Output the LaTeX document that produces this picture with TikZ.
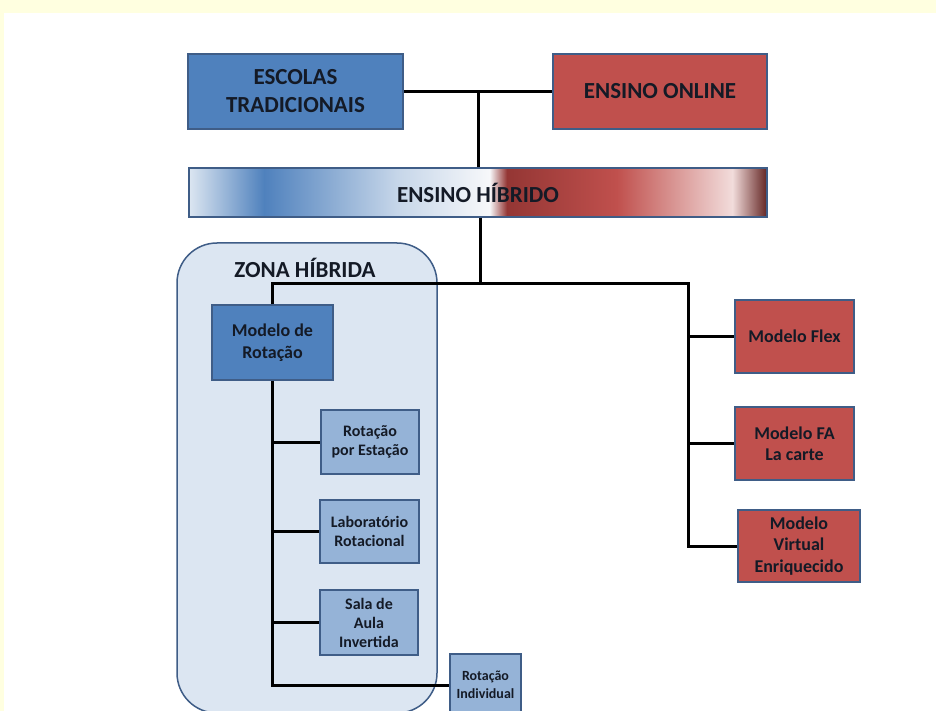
\documentclass[tikz,border=0pt]{standalone}
\usepackage{fontspec}
\setmainfont{Carlito}
\definecolor{fundo}{HTML}{FFFFE0}
\definecolor{azul}{HTML}{4F81BD}
\definecolor{azulclaro}{HTML}{95B3D7}
\definecolor{vermelho}{HTML}{C0504D}
\definecolor{contorno}{HTML}{3F5D87}
\definecolor{zona}{HTML}{DCE6F2}
\definecolor{texto}{HTML}{141A26}
\definecolor{hA}{HTML}{DCE6F1}
\definecolor{hB}{HTML}{4F81BD}
\definecolor{hC}{HTML}{C6D6E9}
\definecolor{hD}{HTML}{F7F8FA}
\definecolor{hE}{HTML}{943634}
\definecolor{hF}{HTML}{C0504D}
\definecolor{hG}{HTML}{F2DCDB}
\definecolor{hH}{HTML}{632523}
\pgfdeclarehorizontalshading{hibrido}{100bp}{color(0bp)=(hA); color(25bp)=(hA); color(31.5bp)=(hB); color(43bp)=(hC); color(51bp)=(hD); color(52.5bp)=(hE); color(62bp)=(hF); color(72bp)=(hG); color(75bp)=(hH); color(100bp)=(hH)}
\begin{document}
\begin{tikzpicture}[x=1pt, y=-1pt,
  caixa/.style={draw=contorno, line width=1.5pt, align=center, inner sep=2pt, text=texto, font=\fontsize{16}{19}\selectfont\bfseries},
  grande/.style={caixa, font=\fontsize{23}{28}\selectfont\bfseries},
  media/.style={caixa, font=\fontsize{18}{21.5}\selectfont\bfseries},
  con/.style={line width=3pt}]
\clip (0,0) rectangle (936,711);
\fill[fundo] (0,0) rectangle (936,711);
\fill[white] (4,13) rectangle (936,711);

\node[draw=contorno, line width=1.5pt, fill=zona, rounded corners=40pt, minimum width=260pt, minimum height=470pt] (ZH) at (307,478) {};
\node[text=texto, font=\fontsize{23}{28}\selectfont\bfseries] (ZT) at (305,268) {ZONA HÍBRIDA};

\node[grande, fill=azul, minimum width=215pt, minimum height=75pt] (ET) at (295.5,91.5) {ESCOLAS\\TRADICIONAIS};
\node[grande, fill=vermelho, minimum width=214pt, minimum height=75pt] (EO) at (660,91.5) {ENSINO ONLINE};
\node[grande, shading=hibrido, minimum width=578pt, minimum height=49pt] (EH) at (478,192.5) {ENSINO HÍBRIDO};

\node[media, fill=azul, minimum width=121pt, minimum height=75pt] (MR) at (272.5,342.5) {Modelo de\\Rotação};
\node[caixa, fill=azulclaro, minimum width=98pt, minimum height=64pt] (RE) at (370,442) {Rotação\\por Estação};
\node[caixa, fill=azulclaro, minimum width=99pt, minimum height=63pt] (LR) at (369.5,531.5) {Laboratório\\Rotacional};
\node[caixa, fill=azulclaro, minimum width=98pt, minimum height=65pt] (SA) at (369,622.5) {Sala de\\Aula\\Invertida};
\node[caixa, fill=azulclaro, font=\fontsize{14}{18}\selectfont\bfseries, minimum width=71pt, minimum height=62pt] (RI) at (485.5,685) {Rotação\\Individual};

\node[media, fill=vermelho, minimum width=119pt, minimum height=73pt] (MF) at (794.5,336.5) {Modelo Flex};
\node[media, fill=vermelho, minimum width=119pt, minimum height=73pt] (MA) at (794.5,443.5) {Modelo FA\\La carte};
\node[media, fill=vermelho, minimum width=122pt, minimum height=72pt] (MV) at (799,546) {Modelo\\Virtual\\Enriquecido};

\coordinate (H) at (480,283);
\coordinate (R) at (688,283);

\draw[con] (ET) -- (EO);
\draw[con] (EH.north) -- (EH.north |- ET.east);
\draw[con] (EH.south -| H) -- (H);
\draw[con] (MR.north) |- (R) |- (MV.west);
\draw[con] (MF.west -| R) -- (MF.west);
\draw[con] (MA.west -| R) -- (MA.west);
\draw[con] (MR.south) |- (RI.west);
\draw[con] (RE.west -| MR.south) -- (RE.west);
\draw[con] (LR.west -| MR.south) -- (LR.west);
\draw[con] (SA.west -| MR.south) -- (SA.west);
\end{tikzpicture}
\end{document}
